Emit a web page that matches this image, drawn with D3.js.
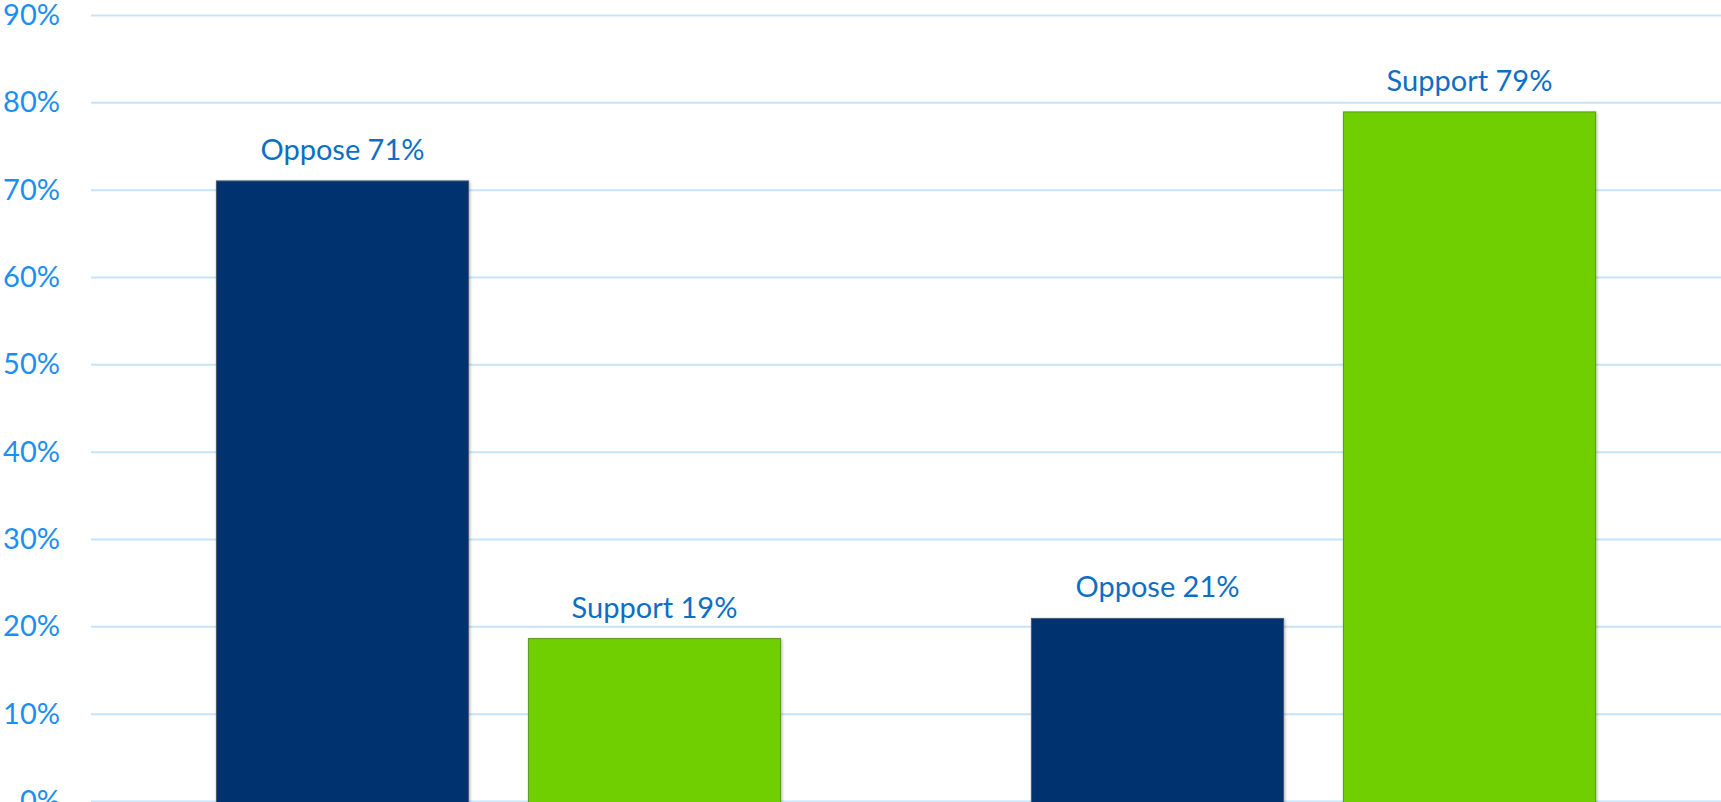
<!DOCTYPE html>
<html>
<head>
  <meta charset="utf-8">
  <style type="text/css">
    html, body { margin: 0; padding: 0; background: #fff; }
    svg { display: block; }
    .grid line { stroke: #c7e3fa; stroke-width: 2px; }
    .grid path { display: none; }
    .y-label { fill: #1b8ef2; font-family: Lato, sans-serif; font-size: 29px; }
    .bar-label { fill: #0b6fc6; font-family: Lato, sans-serif; font-size: 29px; }
  </style>
</head>
<body>
<script src="https://d3js.org/d3.v7.min.js"></script>
<script>
  // data
  var groups = ["Group 1", "Group 2"];
  var series = ["Oppose", "Support"];
  var oppose = [71, 20.9];
  var support = [18.6, 78.9];
  var yTicks = [0, 10, 20, 30, 40, 50, 60, 70, 80, 90];
  var colors = ["#00336f", "#6fcf00"];
  var strokes = ["#4a5a70", "#5c9a1c"];

  var width = 1721, height = 802;
  var margin = {top: 15, right: 0, bottom: 1, left: 91};
  var innerW = width - margin.left - margin.right;
  var innerH = height - margin.top - margin.bottom;

  var svg = d3.select("body").append("svg")
    .attr("width", width)
    .attr("height", height);

  var defs = svg.append("defs");
  var f = defs.append("filter").attr("id", "shadow")
    .attr("x", "-5%").attr("y", "-5%").attr("width", "110%").attr("height", "110%");
  f.append("feDropShadow").attr("dx", 1).attr("dy", 1).attr("stdDeviation", 1.5)
    .attr("flood-color", "#000").attr("flood-opacity", 0.3);

  var g = svg.append("g")
    .attr("transform", "translate(" + margin.left + "," + margin.top + ")");

  var y = d3.scaleLinear().domain([0, 90]).range([innerH, 0]);

  var x0 = d3.scaleBand().domain(groups).range([0, innerW]).padding(0);
  var x1 = d3.scaleBand().domain(series).range([0, x0.bandwidth()])
    .paddingInner(0.192).paddingOuter(0.402);

  // gridlines
  g.append("g")
    .attr("class", "grid")
    .call(d3.axisLeft(y).tickValues(yTicks).tickSize(-innerW).tickFormat(""));

  // y labels
  g.selectAll(".y-label")
    .data(yTicks)
    .enter().append("text")
    .attr("class", "y-label")
    .attr("x", 60 - margin.left)
    .attr("y", function(d) { return y(d); })
    .attr("dy", "0.35em")
    .attr("text-anchor", "end")
    .text(function(d) { return d + "%"; });

  var rows = groups.map(function(grp, i) {
    return [
      {group: grp, key: "Oppose", value: oppose[i], idx: 0},
      {group: grp, key: "Support", value: support[i], idx: 1}
    ];
  });

  var gg = g.selectAll(".grp")
    .data(rows)
    .enter().append("g")
    .attr("class", "grp")
    .attr("transform", function(d, i) { return "translate(" + x0(groups[i]) + ",0)"; });

  gg.selectAll("rect")
    .data(function(d) { return d; })
    .enter().append("rect")
    .attr("x", function(d) { return x1(d.key); })
    .attr("y", function(d) { return y(d.value); })
    .attr("width", x1.bandwidth())
    .attr("height", function(d) { return innerH - y(d.value) + 2; })
    .attr("fill", function(d) { return colors[d.idx]; })
    .attr("stroke", function(d) { return strokes[d.idx]; })
    .attr("stroke-width", 1)
    .attr("filter", "url(#shadow)");

  gg.selectAll(".bar-label")
    .data(function(d) { return d; })
    .enter().append("text")
    .attr("class", "bar-label")
    .attr("x", function(d) { return x1(d.key) + x1.bandwidth() / 2; })
    .attr("y", function(d) { return y(d.value) - 21; })
    .attr("text-anchor", "middle")
    .text(function(d) { return d.key + " " + Math.round(d.value) + "%"; });
</script>
</body>
</html>
